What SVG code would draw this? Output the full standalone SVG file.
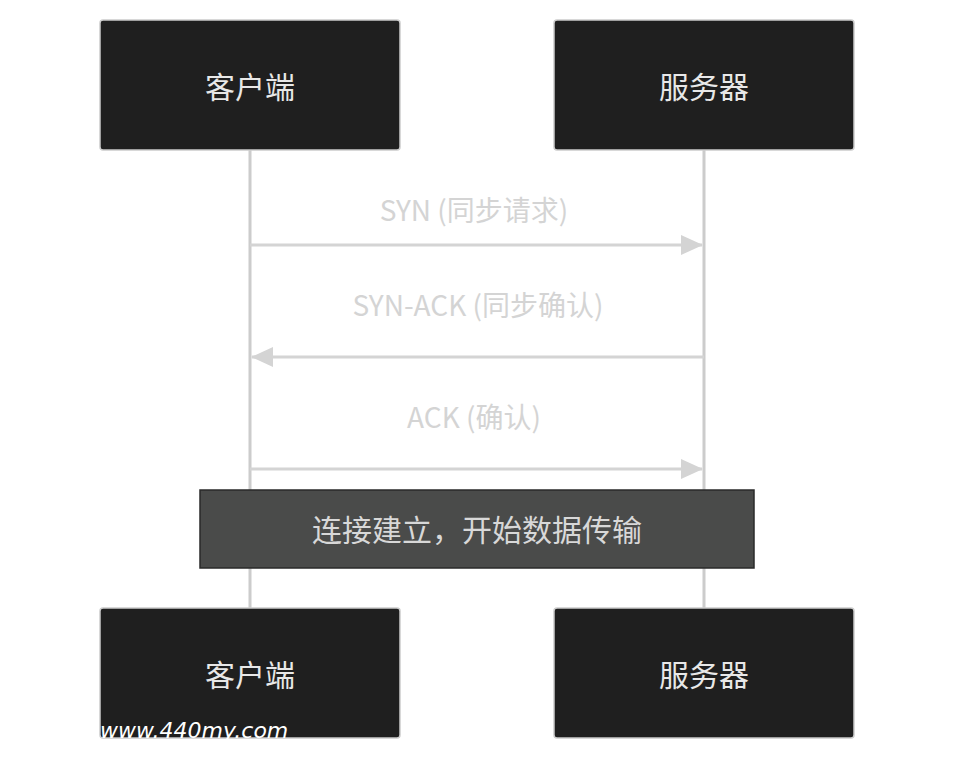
<svg xmlns="http://www.w3.org/2000/svg" width="954" height="760" viewBox="0 0 954 760">
<style>
.actor{fill:#1f1f1f;stroke:#cccccc;stroke-width:1.5}
.at{fill:#e8e8e8;font-family:"Noto Sans CJK SC",sans-serif;font-size:30px;text-anchor:middle;dominant-baseline:central}
.life{stroke:#cccccc;stroke-width:3}
.msg{stroke:#d4d4d4;stroke-width:3;fill:none;marker-end:url(#ah)}
.ml{fill:#d4d4d4;font-family:"Noto Sans CJK SC",sans-serif;font-size:28px;text-anchor:middle;dominant-baseline:central}
</style>
<defs><marker id="ah" markerWidth="8" markerHeight="8" refX="7.5" refY="4" orient="auto" markerUnits="userSpaceOnUse" viewBox="0 0 8 8"><path d="M0,0L8,4L0,8z" fill="#d4d4d4"/></marker>
<marker id="ah2" markerWidth="22" markerHeight="20" refX="21" refY="10" orient="auto" markerUnits="userSpaceOnUse"><path d="M0,0L22,10L0,20z" fill="#d4d4d4"/></marker></defs>
<rect width="954" height="760" fill="#ffffff"/>
<g id="lifelines"><line class="life" x1="250" y1="150" x2="250" y2="608"/><line class="life" x1="704" y1="150" x2="704" y2="608"/></g>
<g id="connectors">
<line class="msg" style="marker-end:url(#ah2)" x1="250" y1="245" x2="702" y2="245"/>
<text class="ml" x="474" y="209">SYN (同步请求)</text>
<line class="msg" style="marker-end:url(#ah2)" x1="704" y1="357" x2="252" y2="357"/>
<text class="ml" x="478" y="304">SYN-ACK (同步确认)</text>
<line class="msg" style="marker-end:url(#ah2)" x1="250" y1="469" x2="702" y2="469"/>
<text class="ml" x="474" y="416">ACK (确认)</text>
</g>
<g id="note"><rect x="200" y="490" width="554" height="78" fill="#4a4b4a" stroke="#2a2a2a" stroke-width="1.5"/><text class="at" x="477" y="528" style="fill:#d8d8d8">连接建立，开始数据传输</text></g>
<g id="client-top"><rect class="actor" x="100" y="20" width="300" height="130" rx="3"/><text class="at" x="250" y="85">客户端</text></g>
<g id="server-top"><rect class="actor" x="554" y="20" width="300" height="130" rx="3"/><text class="at" x="704" y="85">服务器</text></g>
<g id="client-bottom"><rect class="actor" x="100" y="608" width="300" height="130" rx="3"/><text class="at" x="250" y="673">客户端</text></g>
<g id="server-bottom"><rect class="actor" x="554" y="608" width="300" height="130" rx="3"/><text class="at" x="704" y="673">服务器</text></g>
<text x="100" y="738" fill="#ffffff" font-family="DejaVu Sans,sans-serif" font-style="italic" font-size="22">www.440my.com</text>
</svg>
